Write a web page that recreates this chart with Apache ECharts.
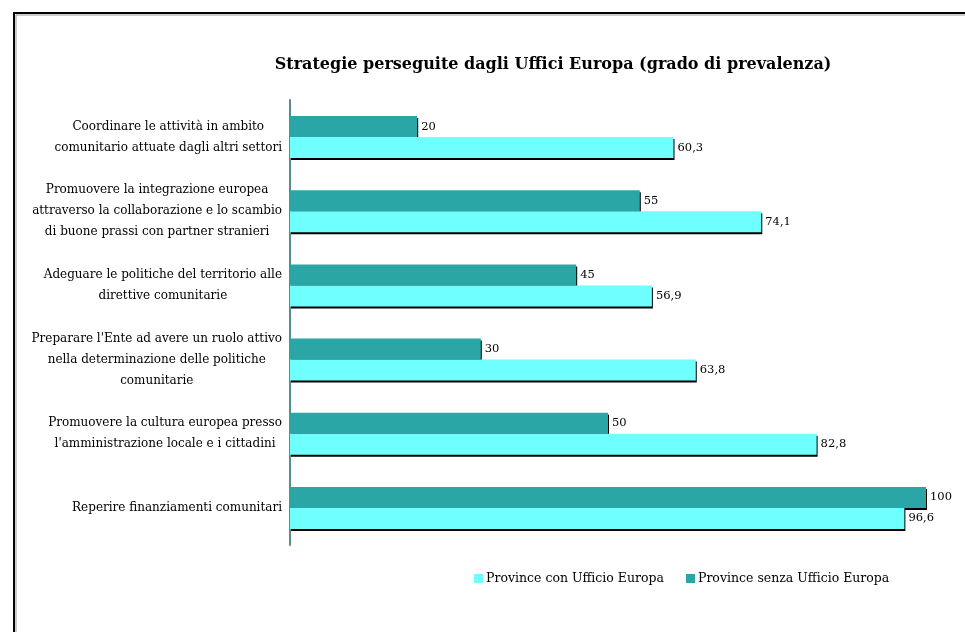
<!DOCTYPE html>
<html>
<head>
<meta charset="utf-8">
<script src="https://cdn.jsdelivr.net/npm/echarts@6/dist/echarts.min.js"></script>
<style>
  html, body { margin: 0; padding: 0; background: #fff; }
  #chart { width: 965px; height: 632px; }
</style>
</head>
<body>
<div id="chart"></div>
<script>
const categories = [
  'Coordinare le attività in ambito\ncomunitario attuate dagli altri settori',
  'Promuovere la integrazione europea\nattraverso la collaborazione e lo scambio\ndi buone prassi con partner stranieri',
  'Adeguare le politiche del territorio alle\ndirettive comunitarie',
  'Preparare l\'Ente ad avere un ruolo attivo\nnella determinazione delle politiche\ncomunitarie',
  'Promuovere la cultura europea presso\nl\'amministrazione locale e i cittadini',
  'Reperire finanziamenti comunitari'
]
const conUfficio   = [60.3, 74.1, 56.9, 63.8, 82.8, 96.6]
const senzaUfficio = [20, 55, 45, 30, 50, 100]

const serif = '"DejaVu Serif", "Liberation Serif", serif'
const chart = echarts.init(document.getElementById('chart'))

const valueLabel = {
  show: true,
  position: 'right',
  distance: 4,
  color: '#000',
  fontFamily: serif,
  fontSize: 11.5,
  formatter: p => String(p.value).replace('.', ',')
}
const barShadow = { shadowColor: '#000', shadowOffsetX: 1, shadowOffsetY: 2, shadowBlur: 0 }

chart.setOption({
  animation: false,
  title: {
    text: 'Strategie perseguite dagli Uffici Europa (grado di prevalenza)',
    left: 548, top: 52, textAlign: 'center',
    textStyle: { fontFamily: serif, fontSize: 16, fontWeight: 'bold', color: '#000' }
  },
  legend: {
    data: ['Province con Ufficio Europa', 'Province senza Ufficio Europa'],
    left: 469, top: 567,
    itemWidth: 9, itemHeight: 9, itemGap: 22,
    icon: 'rect',
    textStyle: { fontFamily: serif, fontSize: 12.5, color: '#000', padding: [0, 0, 0, -2] }
  },
  graphic: [
    { type: 'rect', shape: { x: 16, y: 15, width: 1000, height: 700 }, style: { fill: 'none', stroke: '#999', lineWidth: 1 }, silent: true },
    { type: 'rect', shape: { x: 14, y: 13, width: 1000, height: 700 }, style: { fill: 'none', stroke: '#000', lineWidth: 2 }, silent: true }
  ],
  grid: { left: 290, right: 39, top: 100, height: 445, containLabel: false },
  xAxis: {
    type: 'value', min: 0, max: 100, show: false
  },
  yAxis: {
    type: 'category', data: categories, inverse: true,
    axisLine: { lineStyle: { color: '#5a8c8c', width: 2 } },
    axisTick: { show: false },
    axisLabel: {
      margin: 8, align: 'right',
      formatter: v => v.split('\n').map(l => '{c|' + l + '}').join('\n'),
      rich: {
        c: { align: 'center', fontFamily: serif, fontSize: 12, lineHeight: 21, color: '#000' }
      }
    }
  },
  series: [
    {
      name: 'Province senza Ufficio Europa', type: 'bar', data: senzaUfficio,
      barWidth: 21, barGap: '0%',
      itemStyle: Object.assign({ color: '#2aa6a6' }, barShadow),
      label: valueLabel
    },
    {
      name: 'Province con Ufficio Europa', type: 'bar', data: conUfficio,
      barWidth: 21, barGap: '0%',
      itemStyle: Object.assign({ color: '#70ffff' }, barShadow),
      label: valueLabel
    }
  ]
})

window.addEventListener('resize', () => chart.resize())
</script>
</body>
</html>
